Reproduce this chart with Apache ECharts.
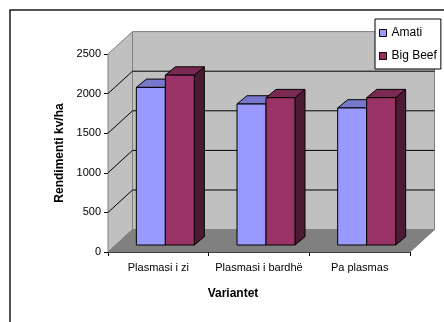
<!DOCTYPE html>
<html>
<head>
<meta charset="utf-8">
<script src="https://cdn.jsdelivr.net/npm/echarts@6/dist/echarts.min.js"></script>
<style>
  html, body { margin: 0; padding: 0; background: #fff; }
  #chart { width: 444px; height: 322px; }
</style>
</head>
<body>
<div id="chart"></div>
<script>
// Yield per variant (kv/ha) for two tomato cultivars
const categories = ['Plasmasi i zi', 'Plasmasi i bardhë', 'Pa plasmas'];
const seriesNames = ['Amati', 'Big Beef'];
const amati = [1990, 1780, 1730];
const bigBeef = [2145, 1860, 1860];
const yTicks = [0, 500, 1000, 1500, 2000, 2500];

const FONT = '"Liberation Sans", Arial, sans-serif';

// oblique projection of the chart box (back wall offset from the front plane)
const WALL_DX = 24.5, WALL_DY = -22.4;
// bars sit a little behind the front plane and have their own depth
const BAR_FRONT_DX = 7, BAR_FRONT_DY = -7;
const BAR_DX = 10, BAR_DY = -8.3;
const BAR_FRAC = 0.288;

const palette = [
  { front: '#9999FF', top: '#7777CC', side: '#55558F' },
  { front: '#993366', top: '#7A2952', side: '#4D1A33' }
];

const chart = echarts.init(document.getElementById('chart'), null, { renderer: 'canvas' });

function renderFrame(params, api) {
  const cs = params.coordSys;
  const x0 = cs.x, x1 = cs.x + cs.width;
  const yb = api.coord([0, yTicks[0]])[1];
  const yt = api.coord([0, yTicks[yTicks.length - 1]])[1];
  const edge = { stroke: '#808080', lineWidth: 1 };
  const children = [];
  // back wall
  children.push({ type: 'polygon', shape: { points: [
    [x0 + WALL_DX, yt + WALL_DY], [x1 + WALL_DX, yt + WALL_DY],
    [x1 + WALL_DX, yb + WALL_DY], [x0 + WALL_DX, yb + WALL_DY]] },
    style: Object.assign({ fill: '#C0C0C0' }, edge) });
  // side wall
  children.push({ type: 'polygon', shape: { points: [
    [x0, yt], [x0 + WALL_DX, yt + WALL_DY], [x0 + WALL_DX, yb + WALL_DY], [x0, yb]] },
    style: Object.assign({ fill: '#C0C0C0' }, edge) });
  // gridlines on both walls
  yTicks.slice(1, -1).forEach(function (v) {
    const y = api.coord([0, v])[1];
    children.push({ type: 'polyline', shape: { points: [
      [x0, y], [x0 + WALL_DX, y + WALL_DY], [x1 + WALL_DX, y + WALL_DY]] },
      style: { stroke: '#000', lineWidth: 1, fill: null } });
  });
  // floor
  children.push({ type: 'polygon', shape: { points: [
    [x0, yb], [x1, yb], [x1 + WALL_DX, yb + WALL_DY], [x0 + WALL_DX, yb + WALL_DY]] },
    style: Object.assign({ fill: '#808080' }, edge) });
  return { type: 'group', children: children };
}

function makeBarRenderer(k) {
  const c = palette[k];
  return function (params, api) {
    const i = api.value(0), v = api.value(1);
    const base = api.coord([i, 0]);
    const top = api.coord([i, v]);
    const band = api.size([1, 0])[0];
    const w = band * BAR_FRAC;
    const x = base[0] - w + k * w + BAR_FRONT_DX;
    const yB = base[1] + BAR_FRONT_DY;
    const yT = top[1] + BAR_FRONT_DY;
    const stroke = { stroke: '#000', lineWidth: 1 };
    return {
      type: 'group',
      children: [
        { type: 'polygon', shape: { points: [
          [x + w, yT], [x + w + BAR_DX, yT + BAR_DY], [x + w + BAR_DX, yB + BAR_DY], [x + w, yB]] },
          style: Object.assign({ fill: c.side }, stroke) },
        { type: 'polygon', shape: { points: [
          [x, yT], [x + BAR_DX, yT + BAR_DY], [x + w + BAR_DX, yT + BAR_DY], [x + w, yT]] },
          style: Object.assign({ fill: c.top }, stroke) },
        { type: 'rect', shape: { x: x, y: yT, width: w, height: yB - yT },
          style: Object.assign({ fill: c.front }, stroke) }
      ]
    };
  };
}

const option = {
  animation: false,
  backgroundColor: '#fff',
  textStyle: { fontFamily: FONT },
  graphic: [{
    type: 'rect', z: 100, silent: true,
    shape: { x: 10, y: 10, width: 460, height: 340 },
    style: { fill: null, stroke: '#1a1a1a', lineWidth: 1.5 }
  }],
  grid: { left: 108, right: 34, top: 54, bottom: 70 },
  legend: {
    data: seriesNames,
    orient: 'vertical',
    left: 375, top: 19,
    icon: 'rect',
    itemWidth: 7, itemHeight: 7, itemGap: 9,
    padding: [7, 4, 6, 4],
    borderColor: '#000', borderWidth: 1,
    backgroundColor: '#fff',
    itemStyle: { borderColor: '#000', borderWidth: 1 },
    textStyle: { fontFamily: FONT, fontSize: 12, color: '#000', lineHeight: 14 }
  },
  xAxis: {
    type: 'category',
    data: categories,
    axisLine: { lineStyle: { color: '#000', width: 1 } },
    axisTick: { show: true, length: 4, interval: 0, lineStyle: { color: '#000' } },
    axisLabel: { fontFamily: FONT, fontSize: 11, color: '#000', margin: 10, interval: 0 },
    name: 'Variantet',
    nameLocation: 'middle',
    nameGap: 36,
    nameTextStyle: { fontFamily: FONT, fontSize: 12, fontWeight: 'bold', color: '#000', padding: [0, 52, 0, 0] }
  },
  yAxis: {
    type: 'value',
    min: 0, max: 2500, interval: 500,
    axisLine: { show: true, lineStyle: { color: '#000', width: 1 } },
    axisTick: { show: true, length: 4, lineStyle: { color: '#000' } },
    splitLine: { show: false },
    axisLabel: {
      fontFamily: FONT, fontSize: 11, color: '#000', margin: 7,
      formatter: function (v) { return String(v); }
    },
    name: 'Rendimenti kv/ha',
    nameLocation: 'middle',
    nameGap: 40,
    nameTextStyle: { fontFamily: FONT, fontSize: 12, fontWeight: 'bold', color: '#000' }
  },
  series: [
    {
      type: 'custom', name: 'frame', clip: false, silent: true, z: 1,
      renderItem: renderFrame,
      data: [[0, 0]],
      encode: { x: 0, y: 1 }
    },
    {
      type: 'custom', name: seriesNames[0], clip: false, z: 2,
      itemStyle: { color: palette[0].front },
      renderItem: makeBarRenderer(0),
      data: amati.map(function (v, i) { return [i, v]; }),
      encode: { x: 0, y: 1 }
    },
    {
      type: 'custom', name: seriesNames[1], clip: false, z: 2,
      itemStyle: { color: palette[1].front },
      renderItem: makeBarRenderer(1),
      data: bigBeef.map(function (v, i) { return [i, v]; }),
      encode: { x: 0, y: 1 }
    }
  ]
};

chart.setOption(option);
</script>
</body>
</html>
